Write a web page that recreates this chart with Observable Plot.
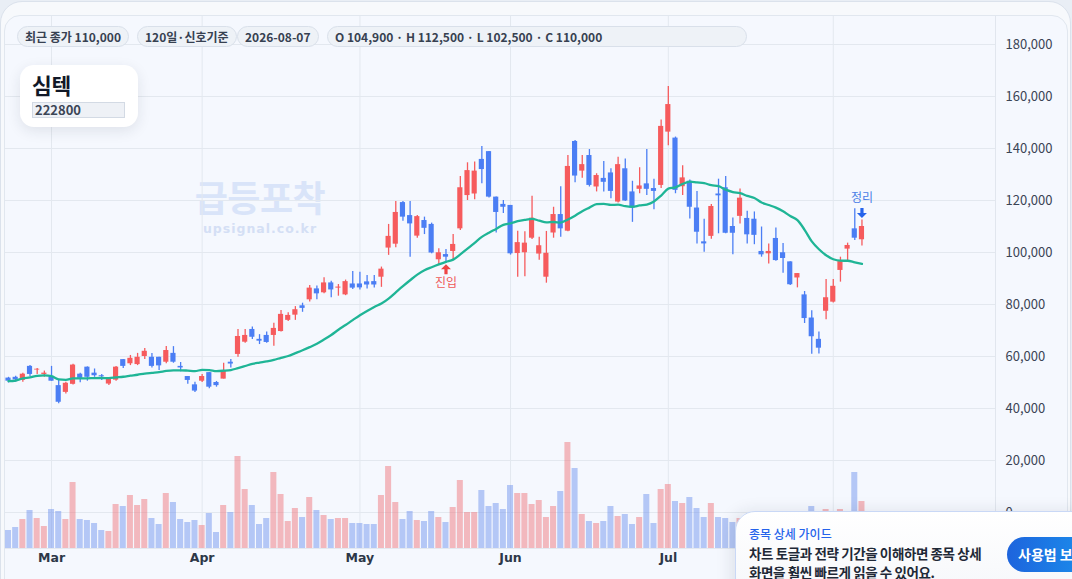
<!DOCTYPE html>
<html><head><meta charset="utf-8">
<script src="https://cdn.jsdelivr.net/npm/d3@7"></script>
<script src="https://cdn.jsdelivr.net/npm/@observablehq/plot@0.6"></script>
<style>
html,body{margin:0;padding:0;width:1072px;height:579px;overflow:hidden;background:#e9eef5;font-family:"Noto Sans CJK KR","Noto Sans",sans-serif;}
#card{position:absolute;left:0;top:1px;width:1071px;height:620px;border:1px solid #dbe2ec;border-radius:22px;background:#f7f9fc;box-sizing:border-box}
#panel{position:absolute;left:4px;top:15px;width:1064px;height:620px;border:1px solid #e1e7ef;border-radius:16px;background:#f5f8fe;box-sizing:border-box}
#sep{position:absolute;left:995px;top:16px;width:1px;height:570px;background:#e1e6ee}
.chart{position:absolute;left:0;top:0}
#wm1{position:absolute;left:160px;width:200px;top:178px;height:36px;line-height:36px;text-align:center;font-size:36px;font-weight:700;color:#d9e4f9;letter-spacing:-0.5px}
#wm2{position:absolute;left:160px;width:200px;top:222px;height:14px;line-height:14px;text-align:center;font-size:12.5px;font-weight:700;color:#d4dff5;letter-spacing:1px;font-family:"DejaVu Sans",sans-serif}
.chip{position:absolute;top:26px;height:21px;box-sizing:border-box;border:1px solid #d9e0ea;border-radius:11px;background:#eef2f7;font-size:12px;font-weight:700;color:#374151;line-height:19px;padding:0 7px;white-space:nowrap}
#namebox{position:absolute;left:20px;top:65px;width:118px;height:62px;background:#fff;border-radius:14px;box-shadow:0 4px 14px rgba(30,41,59,0.10)}
#name{position:absolute;left:12px;top:8px;height:24px;line-height:24px;font-size:21.5px;font-weight:700;color:#111827;letter-spacing:-0.3px}
#code{position:absolute;left:12px;top:37px;width:93px;height:16px;box-sizing:border-box;background:#eef1f6;border:1px solid #d3dae4;font-size:13px;font-weight:700;color:#3c4656;line-height:14px;padding-left:2px}
#guide{position:absolute;left:735px;top:511px;width:360px;height:110px;box-sizing:border-box;border:1px solid #c9d8f6;border-radius:20px;background:linear-gradient(180deg,#ffffff 0%,#f3f5f9 100%);box-shadow:-4px 0 16px rgba(30,41,59,0.10)}
#gt{position:absolute;left:13px;top:13px;font-size:12px;font-weight:500;color:#2563eb;line-height:18px}
#gb{position:absolute;left:13px;top:32px;font-size:13.5px;font-weight:700;color:#1f2937;line-height:18.5px;letter-spacing:-0.4px}
#btn{position:absolute;left:271px;top:25px;width:110px;height:35px;border-radius:18px;background:linear-gradient(90deg,#1d64dd,#1b9bf0);color:#fff;font-size:14px;font-weight:700;line-height:35px;padding-left:11px;box-sizing:border-box;white-space:nowrap}
</style></head>
<body>
<div id="card"></div>
<div id="panel"></div>
<div id="wm1">급등포착</div>
<div id="wm2">upsignal.co.kr</div>
<div id="price" class="chart"></div>
<div id="vol" class="chart"></div>
<div id="sep"></div>
<div id="chips"></div>
<div id="namebox"><div id="name"></div><div id="code"></div></div>
<div id="guide"><div id="gt">종목 상세 가이드</div><div id="gb">차트 토글과 전략 기간을 이해하면 종목 상세<br>화면을 훨씬 빠르게 읽을 수 있어요.</div><div id="btn">사용법 보기</div></div>
<script>
// ---- data (prices in thousand KRW, volume in thousand shares) ----
const stockName = "심텍";
const stockCode = "222800";
const holidays = ["2026-03-02"];
const opens = [51.7,52.0,50.8,56.2,54.8,53.1,52.0,48.8,46.2,49.3,53.2,55.9,53.6,52.6,49.4,50.9,58.8,57.2,56.9,60.0,
59.7,59.7,57.8,61.2,56.2,52.3,49.1,50.5,53.8,50.0,51.3,57.8,60.8,65.5,70.4,66.6,68.1,68.1,69.6,73.9,
75.9,79.5,81.8,86.0,84.5,88.3,86.3,83.7,87.9,87.9,88.7,88.8,90.5,101.7,103.2,119.2,114.2,106.3,112.3,110.8,
97.2,99.2,100.4,109.1,121.9,122.5,135.8,138.8,121.3,118.5,118.1,99.6,99.9,105.5,99.4,90.5,107.5,114.6,108.2,142.7,
131.3,137.3,125.2,128.5,130.6,119.4,132.2,123.3,124.3,126.4,124.6,125.8,146.3,144.0,125.3,127.4,117.1,104.1,106.2,122.5,
124.9,110.0,113.9,113.1,112.8,100.4,99.5,105.4,99.9,96.4,90.2,83.7,74.8,66.6,77.4,80.9,93.1,101.3,109.1,104.9];
const highs = [52.0,52.4,53.6,56.5,55.4,54.4,56.2,51.2,50.1,57.0,53.6,56.0,55.2,53.1,51.4,56.2,58.8,60.4,61.2,63.1,
61.2,59.7,63.8,63.8,57.7,52.3,50.1,53.1,53.8,50.4,57.4,58.8,70.4,70.4,71.3,68.4,69.4,72.8,77.7,76.8,
79.2,80.5,87.3,87.1,90.3,88.9,87.7,89.4,92.7,92.4,91.2,91.2,94.4,110.8,119.6,119.6,119.6,114.2,113.6,111.3,
101.4,101.2,106.9,129.2,134.5,134.8,140.8,138.8,121.3,120.0,118.1,108.2,108.0,121.6,105.9,108.1,117.4,125.3,137.3,143.1,
137.3,139.6,130.3,135.0,132.2,136.6,136.0,127.4,132.6,139.6,128.2,151.0,163.8,144.4,133.4,127.9,123.5,112.8,118.5,128.2,
129.2,113.3,124.4,115.9,115.6,109.8,103.3,109.4,103.5,96.4,91.9,85.0,77.6,69.4,89.6,89.6,98.2,103.6,116.8,112.5];
const lows = [49.8,50.1,50.1,52.3,53.1,52.0,50.5,41.8,45.6,49.0,49.9,50.5,52.0,50.8,48.8,50.5,55.4,56.5,56.5,58.8,
55.6,54.6,57.2,57.4,54.1,49.3,46.2,50.0,47.6,48.2,51.3,55.6,59.7,65.1,66.5,64.6,65.1,63.9,69.4,73.5,
73.9,77.0,81.0,81.8,84.1,82.6,83.2,83.4,85.8,85.6,86.0,86.3,86.6,98.9,101.8,112.0,98.2,105.5,106.9,99.5,
95.0,95.9,96.9,108.5,120.0,120.3,126.4,121.0,107.5,115.0,99.0,90.5,90.7,105.0,97.0,88.2,105.5,105.9,108.0,126.8,
128.6,125.2,123.3,123.3,120.7,119.0,119.6,111.6,122.6,121.9,116.4,124.6,141.1,122.6,121.9,112.9,103.3,100.1,105.1,107.2,
107.2,99.1,111.0,103.3,103.0,98.2,95.6,96.6,92.0,87.3,86.4,72.7,60.9,61.0,74.1,80.6,88.6,96.9,104.6,102.5];
const closes = [50.5,51.0,53.2,53.1,55.1,53.6,50.5,42.4,49.7,56.7,51.6,52.0,52.6,52.2,51.3,55.9,56.2,59.3,59.7,62.0,
56.2,56.4,62.3,57.8,55.6,50.8,46.7,52.3,48.2,48.8,54.4,57.1,67.7,68.1,67.4,65.9,65.4,70.8,76.2,75.8,
78.0,78.5,86.3,84.1,88.3,85.6,86.7,88.8,86.3,86.4,87.5,87.5,93.6,106.2,115.4,113.6,111.0,113.8,109.3,99.8,
99.9,98.2,103.1,124.9,131.5,131.3,131.9,121.3,115.4,117.4,99.5,103.8,103.6,113.2,102.6,99.7,114.6,109.1,133.1,129.4,
133.8,125.8,129.6,127.0,123.5,133.8,119.8,117.1,125.6,124.3,123.5,148.5,156.9,123.9,128.7,117.4,107.8,103.3,117.7,121.8,
107.4,107.4,120.9,106.8,106.6,99.1,100.4,96.9,97.7,87.6,91.9,74.6,67.6,63.2,82.6,87.0,96.5,102.7,105.5,110.0];
const volumes = [180,210,290,380,300,220,390,370,290,660,290,280,250,180,170,440,420,530,430,490,
300,240,550,460,290,260,280,230,350,160,430,360,920,590,430,240,300,760,540,270,
400,310,510,380,330,290,300,300,250,250,240,240,530,820,460,290,370,280,270,370,
310,260,410,680,360,360,580,420,450,390,630,550,550,440,480,310,420,570,1060,800,
340,270,250,270,420,320,340,240,310,540,250,590,640,470,450,510,400,310,450,310,
300,260,300,280,270,250,220,310,240,330,200,340,420,300,390,330,390,280,760,470];
const entrySignals = [61];
const exitSignals = [119];
const priceTicks = [0,20000,40000,60000,80000,100000,120000,140000,160000,180000];
const monthNames = ["Jan","Feb","Mar","Apr","May","Jun","Jul","Aug","Sep","Oct","Nov","Dec"];
const maWindow = 20;

// ---- build table ----
const fmtDay = d3.timeFormat("%Y-%m-%d");
const dates = d3.timeDay.range(new Date(2026,1,20), new Date(2026,7,8))
  .filter(d => d.getDay() % 6 !== 0 && !holidays.includes(fmtDay(d)));
const rows = dates.map((d,i) => ({i, date:d, o:opens[i]*1000, h:highs[i]*1000, l:lows[i]*1000, c:closes[i]*1000, v:volumes[i]}));
const monthTicks = rows.filter((r,i) => i>0 && r.date.getMonth() !== rows[i-1].date.getMonth()).map(r => r.i);
// the last month label sits under the guide card in the reference and is not visible
const labelTicks = monthTicks.slice(0, -1);
const last = rows[rows.length-1];

const RED = "#f65b5d", BLUE = "#4b7ef4";
const up = d => d.c >= d.o;

// chips
const fmt = d3.format(",");
const chipDefs = [
  {t:`최근 종가 ${fmt(last.c)}`, left:17, w:null},
  {t:`${rows.length}일·신호기준`, left:137, w:null},
  {t:fmtDay(last.date), left:237, w:null},
  {t:`O ${fmt(last.o)} · H ${fmt(last.h)} · L ${fmt(last.l)} · C ${fmt(last.c)}`, left:327, w:420}
];
const chips = document.getElementById("chips");
chipDefs.forEach(c => { const e=document.createElement("div"); e.className="chip"; e.textContent=c.t; e.style.left=c.left+"px"; if(c.w) e.style.width=c.w+"px"; chips.appendChild(e); });
document.getElementById("name").textContent = stockName;
document.getElementById("code").textContent = stockCode;

// arrow symbols
const arrowUp = {draw(ctx, size){ const r=Math.sqrt(size/Math.PI); ctx.moveTo(0,-r); ctx.lineTo(r,0); ctx.lineTo(0.32*r,0); ctx.lineTo(0.32*r,r); ctx.lineTo(-0.32*r,r); ctx.lineTo(-0.32*r,0); ctx.lineTo(-r,0); ctx.closePath(); }};
const arrowDown = {draw(ctx, size){ const r=Math.sqrt(size/Math.PI); ctx.moveTo(0,r); ctx.lineTo(r,0); ctx.lineTo(0.32*r,0); ctx.lineTo(0.32*r,-r); ctx.lineTo(-0.32*r,-r); ctx.lineTo(-0.32*r,0); ctx.lineTo(-r,0); ctx.closePath(); }};

const W = 1072, H = 579;
const xScale = {type:"linear", domain:[-0.418, 137.62], axis:null};
const margins = {marginLeft:5, marginRight:77, marginTop:16, marginBottom:31};
const font = '"Noto Sans CJK KR","Noto Sans",sans-serif';

const price = Plot.plot({
  width:W, height:H, ...margins,
  style:{background:"transparent", fontFamily:font, overflow:"visible"},
  x: xScale,
  y: {domain:[-13846, 190769], axis:null},
  marks: [
    Plot.gridY(priceTicks, {stroke:"#e3e8ef", strokeOpacity:1}),
    Plot.gridX(monthTicks, {stroke:"#e3e8ef", strokeOpacity:1}),
    Plot.ruleX(rows, {x:"i", y1:"l", y2:"h", stroke:d => up(d)?RED:BLUE, strokeWidth:1.3}),
    Plot.rect(rows, {x1:d=>d.i-0.36, x2:d=>d.i+0.36, y1:"o", y2:"c", fill:d => up(d)?RED:BLUE}),
    Plot.lineY(rows, Plot.windowY({k:maWindow, anchor:"end", reduce:"mean"}, {x:"i", y:"c", stroke:"#1fb596", strokeWidth:2.3, curve:"monotone-x"})),
    Plot.dot(entrySignals.map(i=>rows[i]), {x:"i", y:"l", symbol:arrowUp, r:5, fill:"#ef4444", stroke:null, dy:6}),
    Plot.text(entrySignals.map(i=>rows[i]), {x:"i", y:"l", text:()=>"진입", dy:20, fill:"#ef5a5a", fontSize:12}),
    Plot.dot(exitSignals.map(i=>rows[i]), {x:"i", y:"h", symbol:arrowDown, r:5, fill:"#2563eb", stroke:null, dy:-7}),
    Plot.text(exitSignals.map(i=>rows[i]), {x:"i", y:"h", text:()=>"정리", dy:-22, fill:"#4a7fe6", fontSize:12}),
    Plot.text(priceTicks, {y:d=>d, frameAnchor:"right", dx:10, textAnchor:"start", text:d=>fmt(d), fill:"#3b4455", fontSize:13}),
    Plot.text(labelTicks, {x:d=>d, frameAnchor:"bottom", dy:13, text:d=>monthNames[rows[d].date.getMonth()], fill:"#2d3748", fontSize:12.5, fontWeight:"bold", fontFamily:'"DejaVu Sans",sans-serif'})
  ]
});
document.getElementById("price").appendChild(price);

const vol = Plot.plot({
  width:W, height:H, ...margins,
  style:{background:"transparent", fontFamily:font, overflow:"visible"},
  x: xScale,
  y: {domain:[0, 5320], axis:null},
  marks: [
    Plot.rectY(rows, {x1:d=>d.i-0.42, x2:d=>d.i+0.42, y:"v", fill:d => up(d)?"#f06a70":"#678bee", fillOpacity:0.45}),
    Plot.ruleY([0], {stroke:"#e3e8ef"})
  ]
});
document.getElementById("vol").appendChild(vol);
</script>
</body></html>
